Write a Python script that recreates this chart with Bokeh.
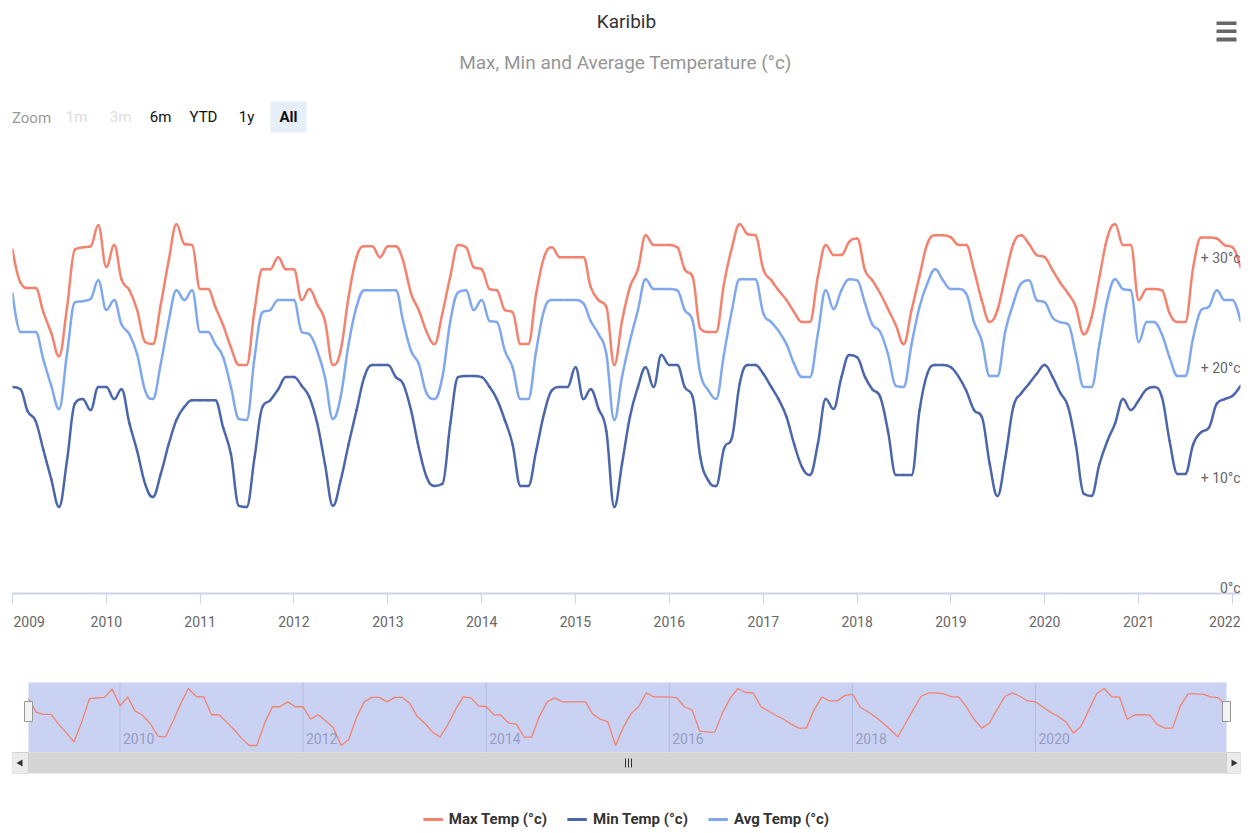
import pandas as pd
from math import pi
from bokeh.plotting import figure
from bokeh.layouts import column
from bokeh.models import (Range1d, FixedTicker, Label, LabelSet,
                          ColumnDataSource, Legend, LegendItem)
from bokeh.core.properties import value
from bokeh.embed import file_html
from bokeh.resources import INLINE

FONT = "Roboto"

# ---------------- data (monthly, Jan 2009 - Feb 2022) ----------------
months = pd.date_range("2009-01-01", "2022-02-01", freq="MS")

max_temp = [
    31.0, 28.0, 27.5, 27.5, 25.3, 23.4, 21.3, 25.7, 31.0, 31.2, 31.3, 33.2,   # 2009
    29.4, 31.4, 28.3, 27.3, 25.5, 22.6, 22.4, 26.0, 30.0, 33.3, 31.5, 31.4,   # 2010
    27.4, 27.4, 25.8, 24.1, 22.1, 20.5, 20.5, 25.5, 29.2, 29.2, 30.3, 29.2,   # 2011
    29.2, 26.4, 27.4, 26.0, 24.5, 20.5, 21.8, 26.7, 30.3, 31.3, 31.3, 30.3,   # 2012
    31.3, 31.3, 30.0, 27.0, 25.5, 23.5, 22.4, 25.2, 28.6, 31.4, 31.2, 29.4,   # 2013
    29.2, 27.4, 27.3, 25.5, 25.3, 22.4, 22.4, 27.0, 30.3, 31.2, 30.3, 30.3,   # 2014
    30.3, 30.3, 27.6, 26.4, 25.8, 20.5, 24.5, 27.6, 29.2, 32.3, 31.4, 31.4,   # 2015
    31.4, 31.2, 29.2, 28.5, 23.8, 23.5, 23.5, 27.9, 31.2, 33.3, 32.4, 32.3,   # 2016
    29.2, 28.2, 27.3, 26.4, 25.3, 24.4, 24.4, 28.5, 31.4, 30.5, 30.5, 31.7,   # 2017
    32.0, 29.1, 28.2, 27.0, 25.6, 24.1, 22.4, 25.5, 28.6, 31.5, 32.3, 32.3,   # 2018
    32.1, 31.4, 31.4, 29.1, 26.4, 24.4, 25.5, 28.6, 31.5, 32.3, 31.5, 30.5,   # 2019
    30.3, 29.1, 28.0, 27.0, 25.8, 23.3, 24.8, 28.5, 32.1, 33.3, 31.4, 31.4,   # 2020
    26.4, 27.4, 27.4, 27.3, 25.2, 24.4, 24.4, 29.4, 32.1, 32.1, 32.0, 31.4,   # 2021
    31.2, 29.4,                                                               # 2022
]

min_temp = [
    18.5, 18.3, 16.3, 15.4, 12.8, 10.1, 7.6, 11.8, 17.0, 17.4, 16.4, 18.5,
    18.5, 17.4, 18.3, 15.2, 12.7, 9.7, 8.5, 10.6, 13.3, 15.5, 16.7, 17.3,
    17.3, 17.3, 17.3, 14.8, 12.4, 7.7, 7.6, 12.1, 16.7, 17.3, 18.3, 19.4,
    19.4, 18.6, 17.6, 15.2, 11.5, 7.7, 10.0, 13.3, 16.4, 19.4, 20.5, 20.5,
    20.5, 19.4, 18.8, 16.4, 13.0, 10.3, 9.5, 9.7, 15.2, 19.4, 19.5, 19.5,
    19.4, 18.5, 17.4, 15.5, 13.3, 9.5, 9.5, 12.7, 16.1, 18.2, 18.5, 18.5,
    20.3, 17.4, 18.3, 16.5, 14.5, 7.6, 11.5, 15.8, 18.5, 20.3, 18.5, 21.4,
    20.5, 20.5, 18.5, 17.6, 12.1, 10.0, 9.5, 12.9, 13.9, 18.8, 20.5, 20.5,
    19.7, 18.5, 17.4, 15.8, 13.3, 11.2, 10.5, 13.3, 17.4, 16.5, 19.4, 21.4,
    21.2, 19.4, 18.3, 17.6, 14.5, 10.5, 10.5, 10.5, 16.4, 19.7, 20.5, 20.5,
    20.3, 19.4, 18.2, 16.4, 15.8, 11.5, 8.6, 12.1, 16.7, 17.9, 18.8, 19.7,
    20.5, 19.4, 18.0, 16.7, 13.3, 8.8, 8.6, 11.5, 13.6, 15.2, 17.4, 16.4,
    17.3, 18.3, 18.5, 17.6, 13.6, 10.6, 10.6, 13.3, 14.4, 14.8, 17.0, 17.4,
    17.7, 18.6,
]

avg_temp = [
    27.0, 23.5, 23.5, 23.5, 21.0, 18.6, 16.5, 21.5, 26.2, 26.3, 26.5, 28.2,
    25.5, 26.4, 24.2, 23.3, 21.5, 18.2, 17.4, 20.6, 24.5, 27.3, 26.4, 27.3,
    23.5, 23.5, 22.4, 21.2, 18.5, 15.6, 15.5, 21.2, 25.3, 25.5, 26.4, 26.4,
    26.4, 23.5, 23.3, 21.8, 19.4, 15.6, 17.6, 22.4, 25.8, 27.3, 27.3, 27.3,
    27.3, 27.3, 24.5, 21.8, 20.6, 17.9, 17.4, 19.4, 24.5, 27.1, 27.3, 25.5,
    26.4, 24.5, 24.4, 21.8, 20.3, 17.4, 17.4, 21.8, 25.5, 26.4, 26.4, 26.4,
    26.4, 26.1, 24.5, 23.3, 21.5, 15.5, 19.4, 22.7, 25.5, 28.3, 27.4, 27.4,
    27.4, 27.3, 25.5, 24.5, 19.7, 18.2, 17.4, 21.5, 25.5, 28.3, 28.3, 28.3,
    25.2, 24.4, 23.6, 22.4, 20.6, 19.4, 19.4, 23.3, 27.3, 25.6, 27.3, 28.3,
    28.2, 26.1, 24.2, 23.5, 21.5, 18.6, 18.5, 22.4, 25.8, 27.9, 29.2, 28.2,
    27.4, 27.4, 27.0, 24.4, 22.7, 19.5, 19.5, 23.6, 26.1, 27.9, 28.2, 26.4,
    26.2, 24.8, 24.4, 24.2, 21.5, 18.5, 18.5, 22.4, 26.4, 28.3, 27.4, 27.3,
    22.6, 24.4, 24.4, 23.3, 21.2, 19.5, 19.5, 23.0, 25.5, 25.8, 27.3, 26.4,
    26.4, 24.5,
]

year_labels = [str(y) for y in range(2009, 2023)]
nav_labels = ["2010", "2012", "2014", "2016", "2018", "2020"]
y_ticks = [0, 10, 20, 30]
y_tick_labels = ["0°c", "+ 10°c", "+ 20°c", "+ 30°c"]
series_names = ["Max Temp (°c)", "Min Temp (°c)", "Avg Temp (°c)"]
zoom_buttons = ["1m", "3m", "6m", "YTD", "1y", "All"]

MAX_C = "#f4826f"
MIN_C = "#4c66ab"
AVG_C = "#80a8ef"
TICK_C = "#666666"


def ms(ts):
    return pd.Timestamp(ts).value / 1e6


xs = [ms(m) for m in months]
year_ticks = [ms(f"{y}-01-01") for y in year_labels]
nav_ticks = [pd.Timestamp(f"{y}-01-01") for y in nav_labels]


def spline_controls(xv, yv, smoothing=1.5):
    """Control points of a Highcharts-style spline through the given points."""
    n = len(xv)
    left = [(xv[i], yv[i]) for i in range(n)]
    right = [(xv[i], yv[i]) for i in range(n)]
    d = smoothing + 1
    for i in range(1, n - 1):
        px, py = xv[i], yv[i]
        lx, ly = xv[i - 1], yv[i - 1]
        nx, ny = xv[i + 1], yv[i + 1]
        lcx, lcy = (smoothing * px + lx) / d, (smoothing * py + ly) / d
        rcx, rcy = (smoothing * px + nx) / d, (smoothing * py + ny) / d
        if rcx != lcx:
            corr = ((rcy - lcy) * (rcx - px)) / (rcx - lcx) + py - rcy
            lcy += corr
            rcy += corr
        if lcy > ly and lcy > py:
            lcy = max(ly, py)
            rcy = 2 * py - lcy
        elif lcy < ly and lcy < py:
            lcy = min(ly, py)
            rcy = 2 * py - lcy
        if rcy > ny and rcy > py:
            rcy = max(ny, py)
            lcy = 2 * py - rcy
        elif rcy < ny and rcy < py:
            rcy = min(ny, py)
            lcy = 2 * py - rcy
        left[i] = (lcx, lcy)
        right[i] = (rcx, rcy)
    return dict(x0=xv[:-1], y0=yv[:-1], x1=xv[1:], y1=yv[1:],
                cx0=[c[0] for c in right[:-1]], cy0=[c[1] for c in right[:-1]],
                cx1=[c[0] for c in left[1:]], cy1=[c[1] for c in left[1:]])


W = 1258
BL, BR = 12, 18          # frame spans page x 12 .. 1240 in every panel

# ---------------- header (title, subtitle, range selector) ----------------
hdr = figure(width=W, height=150, x_range=Range1d(BL, W - BR), y_range=Range1d(150, 0),
             output_backend="svg", toolbar_location=None,
             min_border_left=BL, min_border_right=BR, min_border_top=0, min_border_bottom=0,
             x_axis_location=None, y_axis_location=None, outline_line_color=None)
hdr.grid.visible = False
hdr.add_layout(Label(x=626, y=21, text="Karibib", text_align="center", text_baseline="middle",
                     text_font=FONT, text_font_size="19px", text_color="#333333"))
hdr.add_layout(Label(x=625, y=62, text="Max, Min and Average Temperature (°c)", text_align="center",
                     text_baseline="middle", text_font=FONT, text_font_size="19px", text_color="#969696"))
hdr.quad(left=[1216] * 3, right=[1236] * 3, top=[21, 29, 37], bottom=[24.5, 32.5, 41],
         fill_color="#666666", line_color=None)
hdr.quad(left=[270], right=[306], top=[101], bottom=[132], fill_color="#e6eff8", line_color=None)
hdr.add_layout(Label(x=31, y=117, text="Zoom", text_align="center", text_baseline="middle",
                     text_font=FONT, text_font_size="15px", text_color="#9a9a9a"))
btn_x = [76, 120, 160, 203, 246, 288]
btn_col = ["#dddddd", "#dddddd", "#111111", "#111111", "#111111", "#111111"]
for bx, bt, bc in zip(btn_x, zoom_buttons, btn_col):
    hdr.add_layout(Label(x=bx, y=116, text=bt, text_align="center", text_baseline="middle",
                         text_font=FONT, text_font_size="15px", text_color=bc,
                         text_font_style="bold" if bt == "All" else "normal"))

# ---------------- main chart ----------------
p = figure(width=W, height=455, x_axis_type="datetime",
           x_range=Range1d(months[0], months[-1]), y_range=Range1d(-0.27, 40),
           output_backend="svg", toolbar_location=None,
           min_border_left=BL, min_border_right=BR, min_border_top=0, min_border_bottom=12,
           y_axis_location=None, outline_line_color=None)
p.grid.visible = False
for series, col in ((max_temp, MAX_C), (avg_temp, AVG_C), (min_temp, MIN_C)):
    p.bezier(source=ColumnDataSource(spline_controls(xs, series)),
             x0="x0", y0="y0", x1="x1", y1="y1", cx0="cx0", cy0="cy0", cx1="cx1", cy1="cy1",
             line_color=col, line_width=2.5, line_cap="round")

ax = p.xaxis[0]
ax.ticker = FixedTicker(ticks=year_ticks)
ax.major_label_overrides = {t: "" for t in year_ticks}
ax.major_label_text_font_size = "1px"
ax.major_label_standoff = 0
ax.axis_line_color = "#ccd3eb"
ax.axis_line_width = 2
ax.major_tick_line_color = "#ccd3eb"
ax.major_tick_out = 10
ax.major_tick_in = 0
ax.minor_tick_line_color = None

ysrc = ColumnDataSource(dict(x=[months[-1]] * len(y_ticks), y=y_ticks, text=y_tick_labels))
p.add_layout(LabelSet(x="x", y="y", text="text", source=ysrc, text_align="right",
                      text_baseline="middle", y_offset=3, text_font=value(FONT),
                      text_font_size="14px", text_color=TICK_C))

# ---------------- x labels + navigator + scrollbar ----------------
start_ms, end_ms = xs[0], xs[-1]
ms_per_px = (end_ms - start_ms) / 1198.0
nav = figure(width=W, height=190, x_axis_type="datetime",
             x_range=Range1d(start_ms - 16 * ms_per_px, end_ms + 14 * ms_per_px),
             y_range=Range1d(14.21, 51.94),
             output_backend="svg", toolbar_location=None,
             min_border_left=BL, min_border_right=BR, min_border_top=0, min_border_bottom=22,
             x_axis_location=None, y_axis_location=None, outline_line_color=None)
nav.grid.visible = False
nav.extra_y_ranges = {"px": Range1d(773, 605)}
nav.extra_x_ranges = {"px": Range1d(BL, W - BR), "main": Range1d(months[0], months[-1])}

# year labels of the main time axis
al = ["center"] * len(year_labels)
al[0], al[-1] = "left", "right"
xo = [0] * len(year_labels)
xo[0], xo[-1] = 1, 8
xsrc = ColumnDataSource(dict(x=year_ticks, y=[621] * len(year_ticks), text=year_labels,
                             align=al, xo=xo))
nav.add_layout(LabelSet(x="x", y="y", text="text", source=xsrc, x_range_name="main",
                        y_range_name="px", text_align="align", x_offset="xo",
                        text_baseline="middle", text_font=value(FONT),
                        text_font_size="14px", text_color=TICK_C))

nav.quad(left=[months[0]], right=[months[-1]], top=[682], bottom=[752], y_range_name="px",
         fill_color="#c9d2f3", line_color=None)
nav.segment(x0=nav_ticks, y0=[682] * len(nav_ticks), x1=nav_ticks, y1=[752] * len(nav_ticks),
            y_range_name="px", line_color="#b3bce4", line_width=1)
nsrc = ColumnDataSource(dict(x=nav_ticks, y=[743] * len(nav_ticks), text=nav_labels))
nav.add_layout(LabelSet(x="x", y="y", text="text", source=nsrc, y_range_name="px",
                        x_offset=3, text_align="left", text_baseline="bottom",
                        text_font=value(FONT), text_font_size="14px", text_color="#979dc2"))
nav.line(months, max_temp, color=MAX_C, line_width=1.3)

# scrollbar
nav.quad(left=[BL], right=[W - BR], top=[752], bottom=[773], x_range_name="px", y_range_name="px",
         fill_color="#e2e2e2", line_color=None)
nav.quad(left=[months[0]], right=[months[-1]], top=[752], bottom=[773], y_range_name="px",
         fill_color="#d5d5d5", line_color=None)
nav.quad(left=[12, 1226], right=[28, 1240], top=[752, 752], bottom=[773, 773],
         x_range_name="px", y_range_name="px", fill_color="#ebebeb", line_color="#d0d0d0")
nav.scatter(x=[20, 1233], y=[762.5, 762.5], marker="triangle", size=7, angle=[pi / 2, -pi / 2],
            x_range_name="px", y_range_name="px", fill_color="#333333", line_color=None)
nav.segment(x0=[625, 628, 631], x1=[625, 628, 631], y0=[758] * 3, y1=[767] * 3,
            x_range_name="px", y_range_name="px", line_color="#333333", line_width=1)
nav.rect(x=[months[0], months[-1]], y=[711, 711], width=8, height=20, width_units="screen",
         height_units="screen", y_range_name="px", fill_color="#f2f2f2", line_color="#999999")

# ---------------- legend ----------------
leg = figure(width=W, height=35, x_range=Range1d(0, 1), y_range=Range1d(0, 1),
             output_backend="svg", toolbar_location=None,
             min_border_left=BL, min_border_right=BR, min_border_top=0, min_border_bottom=0,
             x_axis_location=None, y_axis_location=None, outline_line_color=None)
leg.grid.visible = False
nan = float("nan")
rends = [leg.line(x=[nan], y=[nan], color=c, line_width=3) for c in (MAX_C, MIN_C, AVG_C)]
legend = Legend(items=[LegendItem(label=n, renderers=[r]) for n, r in zip(series_names, rends)],
                orientation="horizontal", location="bottom_center", margin=2, padding=3,
                spacing=20, glyph_width=20, glyph_height=14, label_standoff=6,
                label_text_font=FONT, label_text_font_size="15px", label_text_font_style="bold",
                label_text_color="#333333", border_line_color=None, background_fill_alpha=0)
leg.add_layout(legend, "center")

layout = column(hdr, p, nav, leg, spacing=0)
open("out.html", "w").write(file_html(layout, INLINE))
